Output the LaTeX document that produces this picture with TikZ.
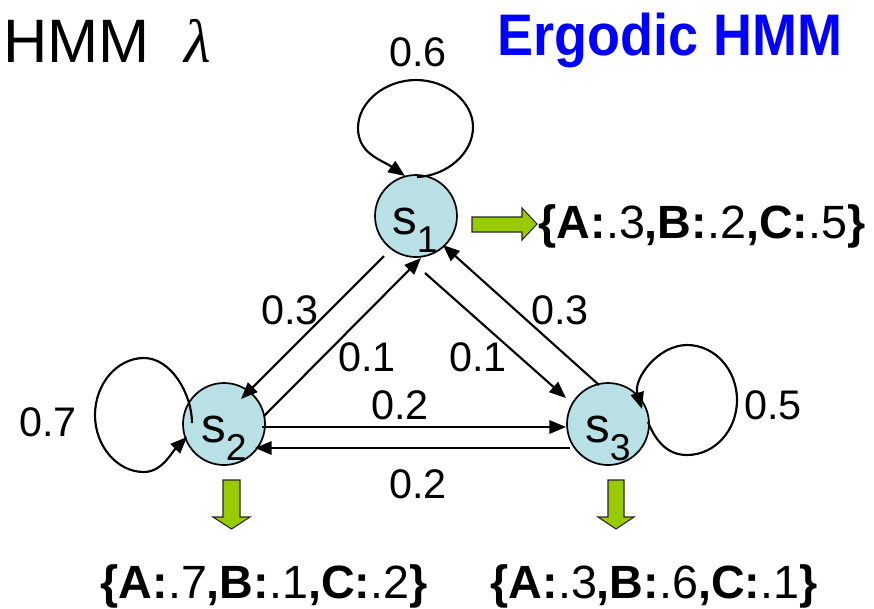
\documentclass[tikz,border=0pt]{standalone}
\usepackage{fontspec}
\setmainfont{Liberation Sans}
\newfontfamily\lamfont{Liberation Serif}
\usetikzlibrary{calc,arrows.meta}
\definecolor{stfill}{RGB}{185,224,228}
\definecolor{emgreen}{RGB}{153,204,0}
\definecolor{titleblue}{RGB}{0,0,255}
\newcommand{\stsub}[1]{\raisebox{-14pt}{\fontsize{28}{28}\selectfont #1}}
\newcommand{\bb}[1]{\textbf{#1}}
\begin{document}
\begin{tikzpicture}[x=0.75pt,y=-0.75pt,
  state/.style={circle,draw=black,line width=1.3pt,fill=stfill,minimum size=61.5pt,inner sep=0pt},
  slabel/.style={anchor=base,inner sep=0pt,font=\fontsize{37}{37}\selectfont},
  prob/.style={inner sep=0pt,font=\fontsize{31}{31}\selectfont},
  emis/.style={anchor=base,inner sep=0pt,font=\fontsize{35}{35}\selectfont},
  arr/.style={line width=1.6pt,-{Triangle[length=12.5pt,width=10pt]}},
  greenarrow/.style={fill=emgreen,draw=black!85,line width=0.8pt,line join=miter}
]
\useasboundingbox (0,0) rectangle (874,608);

% titles
\node[anchor=base west,inner sep=0pt,font=\fontsize{46}{46}\selectfont] (title) at (3,62) {HMM\hspace{26pt}{\lamfont\itshape λ}};
\node[anchor=base,inner sep=0pt,text=titleblue,font=\fontsize{44}{44}\selectfont\bfseries] (ergo) at (670,55) {\scalebox{0.92}[1]{Ergodic HMM}};

% states
\node[state] (s1) at (416,216) {};
\node[state] (s2) at (224,424) {};
\node[state] (s3) at (608,424) {};
\node[slabel] (s1t) at ($(s1)+(-1,18)$) {s\stsub{1}};
\node[slabel] (s2t) at ($(s2)+(0,18)$) {s\stsub{2}};
\node[slabel] (s3t) at ($(s3)+(0,18)$) {s\stsub{3}};

% transitions between states
\draw[arr] ($(s1)+(-32,40)$) -- ($(s2)+(17,-25)$);
\draw[arr] ($(s2)+(40,-8)$) -- ($(s1)+(5,42)$);
\draw[arr] ($(s1)+(9,57)$) -- ($(s3)+(-42,-26)$);
\draw[arr] ($(s3)+(-9,-39)$) -- ($(s1)+(27,29)$);
\draw[arr] ($(s2)+(38,3)$) -- ($(s3)+(-42,3)$);
\draw[arr] ($(s3)+(-38,24)$) -- ($(s2)+(31,24)$);

% self loops
\draw[arr, shift={(s1)}] (1,-39) .. controls (30,-40) and (57,-62) .. (57,-89)
  .. controls (57,-114) and (31,-136) .. (0,-136)
  .. controls (-31,-136) and (-58,-114) .. (-58,-88)
  .. controls (-58,-62) and (-34,-56) .. (-11,-40);
\draw[arr, shift={(s2)}] (-32,-1) .. controls (-32,-30) and (-53,-66) .. (-80,-66)
  .. controls (-107,-66) and (-129,-40) .. (-129,-9)
  .. controls (-129,22) and (-107,48) .. (-80,48)
  .. controls (-62,48) and (-52,28) .. (-37,13);
\draw[arr, shift={(s3)}] (40,-2) .. controls (48,18) and (60,31) .. (79,31)
  .. controls (107,31) and (129,6) .. (129,-24)
  .. controls (129,-54) and (107,-79) .. (79,-79)
  .. controls (50,-79) and (25,-45) .. (34,-15);

% probabilities
\node[prob] (p11) at (418,52) {0.6};
\node[prob] (p12) at (290,310) {0.3};
\node[prob] (p21) at (367,357) {0.1};
\node[prob] (p13) at (478,357) {0.1};
\node[prob] (p31) at (560,310) {0.3};
\node[prob] (p23) at (400,405) {0.2};
\node[prob] (p32) at (418,484) {0.2};
\node[prob] (p22) at (48,422) {0.7};
\node[prob] (p33) at (773,405) {0.5};

% emission arrows
\draw[greenarrow, shift={(s1)}] (56,1) -- (106,1) -- (106,-8) -- (121,8) -- (106,24) -- (106,16) -- (56,16) -- cycle;
\draw[greenarrow, shift={(s2)}] (-1,56) -- (16,56) -- (16,93) -- (26,93) -- (7.5,105) -- (-11,93) -- (-1,93) -- cycle;
\draw[greenarrow, shift={(s3)}] (0,56) -- (16,56) -- (16,93) -- (26,93) -- (8,105) -- (-10,93) -- (0,93) -- cycle;

% emission distributions
\node[emis] (e1) at (702,238) {\bb{\{A:}.3\bb{,B:}.2\bb{,C:}.5\bb{\}}};
\node[emis] (e2) at (264,598) {\bb{\{A:}.7\bb{,B:}.1\bb{,C:}.2\bb{\}}};
\node[emis] (e3) at (654,598) {\bb{\{A:}.3\bb{,B:}.6\bb{,C:}.1\bb{\}}};
\end{tikzpicture}
\end{document}
